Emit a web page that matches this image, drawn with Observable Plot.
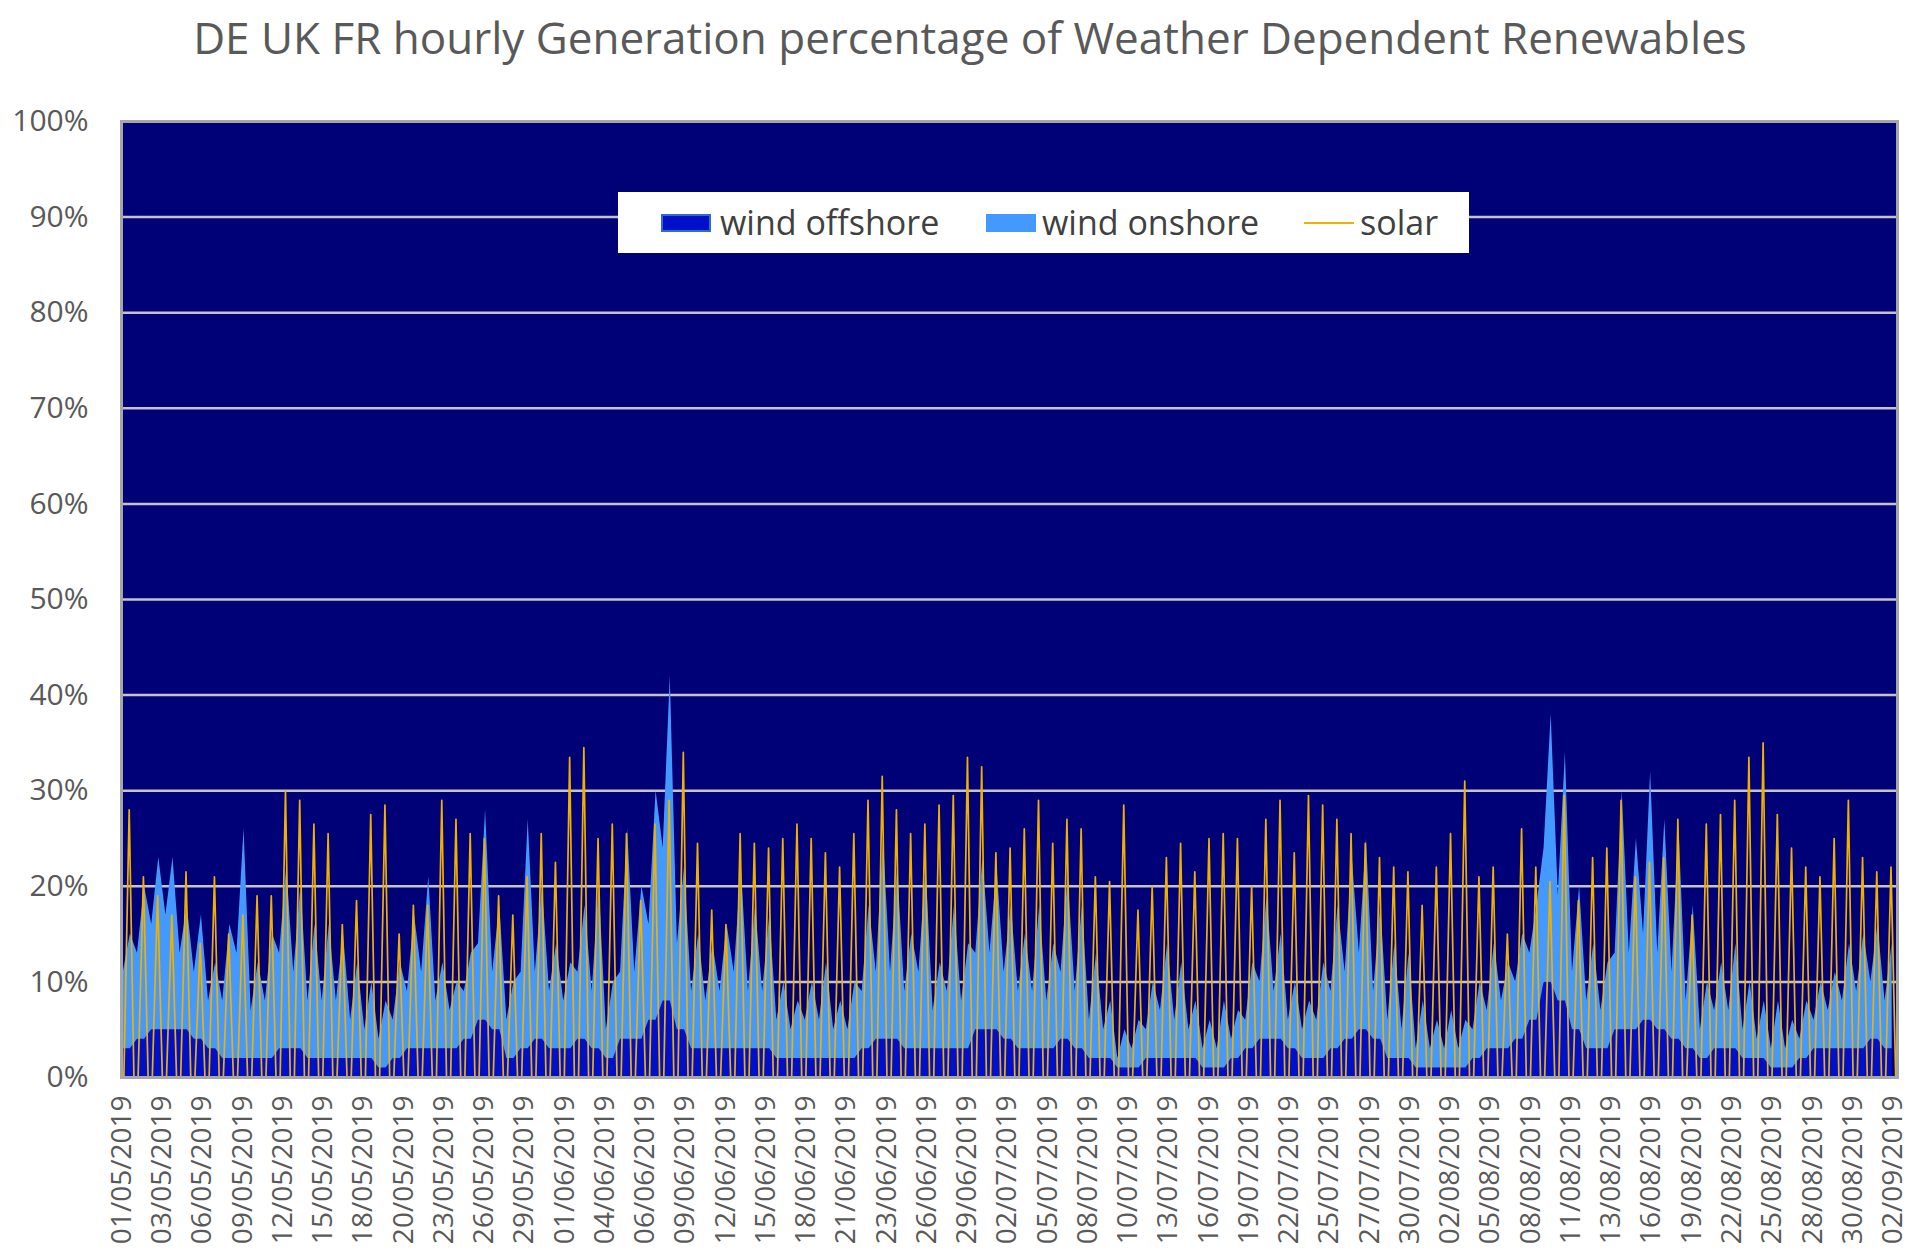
<!DOCTYPE html>
<html>
<head>
<meta charset="utf-8">
<script src="https://cdn.jsdelivr.net/npm/d3@7"></script>
<script src="https://cdn.jsdelivr.net/npm/@observablehq/plot@0.6"></script>
<style>
  html, body { margin: 0; padding: 0; background: #fff; }
  body { width: 1920px; height: 1259px; position: relative; overflow: hidden; font-family: "Open Sans", sans-serif; }
  #title { position: absolute; left: 0; top: 11px; width: 1940px; text-align: center; font-size: 44px; line-height: 52px; color: #595959; }
  #chart { position: absolute; left: 0; top: 95px; }
  #legend { position: absolute; left: 618px; top: 192px; width: 851px; height: 61px; background: #fff; font-size: 34px; color: #404040; }
  #legend .item { position: absolute; top: 0; height: 61px; line-height: 61px; }
  #legend .sw { position: absolute; top: 22px; width: 50px; height: 18px; box-sizing: border-box; }
  #legend .ln { position: absolute; top: 30px; width: 50px; height: 2px; background: #f0b000; }
</style>
</head>
<body>
<div id="title">DE UK FR hourly Generation percentage of Weather Dependent Renewables</div>
<div id="chart"></div>
<div id="legend">
  <div class="sw" style="left:43px;background:#0010c8;border:2px solid #2f6cc8;"></div>
  <div class="item" style="left:102px;">wind offshore</div>
  <div class="sw" style="left:368px;background:#4499ff;"></div>
  <div class="item" style="left:424px;">wind onshore</div>
  <div class="ln" style="left:686px;"></div>
  <div class="item" style="left:742px;">solar</div>
</div>
<script>
// Daily values (01/05/2019 .. 02/09/2019, 125 days), in %
const solarPeak = [28,21,19,17,21.5,14,21,15,17,19,
  19,30,29,26.5,25.5,16,18.5,27.5,28.5,15,
  18,18,29,27,25.5,25,19,17,21,25.5,
  22.5,33.5,34.5,25,26.5,25.5,18.5,26.5,29,34,
  24.5,17.5,16,25.5,24.5,24,25,26.5,25,23.5,
  22,25.5,29,31.5,28,25.5,26.5,28.5,29.5,33.5,
  32.5,23.5,24,26,29,24.5,27,26,21,20.5,
  28.5,17.5,20,23,24.5,21.5,25,25.5,25,20,
  27,29,23.5,29.5,28.5,27,25.5,24.5,23,22,
  21.5,18,22,25.5,31,21,22,15,26,
  22,20.5,29.5,18.5,23,24,29,21,22.5,23,
  27,17,26.5,27.5,29,33.5,35,27.5,24,22,
  21,25,29,23,21.5,22];

const windOffshore = [3,4,5,5,5,4,3,2,2,2,
  2,3,3,2,2,2,2,2,1,2,
  3,3,3,3,4,6,5,2,3,4,
  3,3,4,3,2,4,4,6,8,5,
  3,3,3,3,3,3,2,2,2,2,
  2,2,3,4,4,3,3,3,3,3,
  5,5,4,3,3,3,4,3,2,2,
  1,1,2,2,2,2,1,1,2,3,
  4,4,3,2,2,3,4,5,4,2,
  2,1,1,1,1,2,3,3,4,6,
  10,8,5,3,3,5,5,6,5,4,
  3,2,3,3,2,2,1,1,2,3,
  3,3,3,4,3];

// onshore at night (around 03:00) and in the afternoon (around 15:00)
const windOnshoreNight = [8,9,11,12,8,7,5,6,11,5,
  6,10,8,6,6,6,4,3,3,4,
  6,8,5,4,5,8,6,4,8,7,
  6,5,7,6,3,7,7,10,16,9,
  6,5,6,8,6,6,4,3,4,4,
  3,3,6,7,7,6,8,4,6,5,
  8,8,7,6,6,5,7,6,4,3,
  1,2,3,5,4,3,2,2,2,3,
  6,5,3,3,4,6,7,8,5,4,
  3,2,2,2,2,3,4,5,6,7,
  14,11,6,5,4,8,8,9,8,7,
  5,3,4,4,3,2,2,2,2,3,
  4,5,6,6,5];
const windOnshoreDay = [12,16,18,18,13,13,9,14,24,10,
  13,19,17,14,14,13,10,8,7,10,
  14,18,9,7,9,22,13,8,24,16,
  11,9,14,17,8,22,16,24,34,17,
  12,11,13,19,15,14,8,6,8,10,
  6,8,15,21,18,12,19,9,15,11,
  18,17,14,12,15,11,17,15,11,6,
  4,5,8,12,10,6,5,7,5,9,
  15,11,7,6,10,15,19,20,14,12,
  11,7,5,6,5,8,11,9,11,12,
  28,26,15,11,9,25,20,26,22,22,
  15,8,9,11,8,6,7,5,6,7,
  8,11,12,12,11];

const tickLabels = ["01/05/2019","03/05/2019","06/05/2019","09/05/2019","12/05/2019","15/05/2019","18/05/2019","20/05/2019","23/05/2019","26/05/2019","29/05/2019","01/06/2019","04/06/2019","06/06/2019","09/06/2019","12/06/2019","15/06/2019","18/06/2019","21/06/2019","23/06/2019","26/06/2019","29/06/2019","02/07/2019","05/07/2019","08/07/2019","10/07/2019","13/07/2019","16/07/2019","19/07/2019","22/07/2019","25/07/2019","27/07/2019","30/07/2019","02/08/2019","05/08/2019","08/08/2019","11/08/2019","13/08/2019","16/08/2019","19/08/2019","22/08/2019","25/08/2019","28/08/2019","30/08/2019","02/09/2019"];
const yTicks = [0,10,20,30,40,50,60,70,80,90,100];
const seriesNames = ["wind offshore", "wind onshore"];

// Build tables (x = hour since 01/05/2019 00:00)
const wind = [];
windOffshore.forEach((v, i) => {
  wind.push({t: i*24 + 3, v: v, s: seriesNames[0]});
  wind.push({t: i*24 + 15, v: v, s: seriesNames[0]});
  wind.push({t: i*24 + 3, v: windOnshoreNight[i], s: seriesNames[1]});
  wind.push({t: i*24 + 15, v: windOnshoreDay[i], s: seriesNames[1]});
});
const solar = [];
solarPeak.forEach((v, i) => {
  solar.push({t: i*24 + 4, v: 0});
  solar.push({t: i*24 + 13, v: v});
  solar.push({t: i*24 + 21, v: 0});
});
const xTicks = tickLabels.map((_, i) => i*68 + 0.5);
const labelOf = new Map(xTicks.map((t, i) => [t, tickLabels[i]]));

const chart = Plot.plot({
  width: 1920,
  height: 1164,
  marginLeft: 121,
  marginRight: 23,
  marginTop: 26,
  marginBottom: 182,
  style: {fontFamily: "Open Sans, sans-serif", background: "transparent"},
  x: {domain: [0, 3000], axis: null},
  y: {domain: [0, 100], axis: null},
  color: {domain: seriesNames, range: ["#0010c8", "#4499ff"]},
  marks: [
    Plot.frame({fill: "#000077"}),
    Plot.gridY(yTicks.slice(1, -1), {stroke: "#c4c4c8", strokeOpacity: 1, strokeWidth: 2.5}),
    Plot.areaY(wind, Plot.stackY({x: "t", y: "v", fill: "s", order: seriesNames, curve: "linear"})),
    Plot.line(solar, {x: "t", y: "v", stroke: "#f0b000", strokeWidth: 1.7}),
    Plot.frame({stroke: "#a6a6a6", strokeWidth: 3}),
    Plot.axisY(yTicks, {label: null, tickFormat: d => d + "%", tickSize: 0, tickPadding: 33, fontSize: 30, fill: "#595959"}),
    Plot.axisX(xTicks, {label: null, tickFormat: d => labelOf.get(d), tickRotate: -90, tickSize: 0, tickPadding: 18, fontSize: 28, fill: "#595959"})
  ]
});
document.getElementById("chart").appendChild(chart);
</script>
</body>
</html>
